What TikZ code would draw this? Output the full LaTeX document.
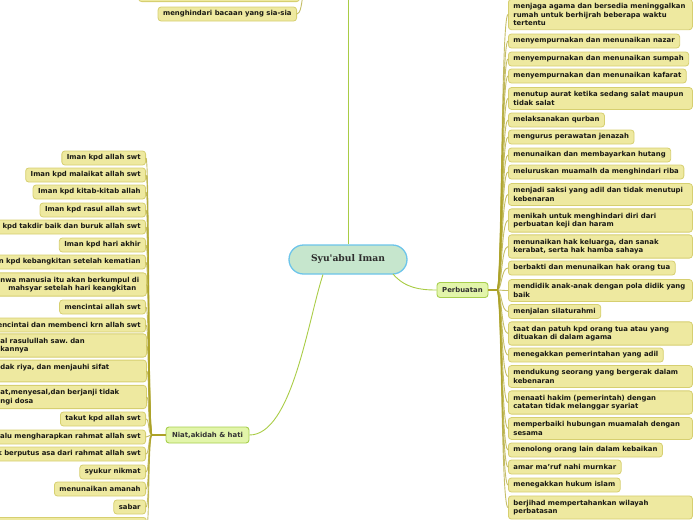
\documentclass[tikz,border=0pt]{standalone}
\usepackage{fontspec}
\setsansfont{DejaVu Sans}
\newfontfamily\ctrfont{DejaVu Serif}
\frenchspacing
\newcommand\leaffnt{\sffamily\bfseries\fontsize{6.9}{8.5}\selectfont}
\newcommand\branchfnt{\sffamily\bfseries\fontsize{6.9}{8.5}\selectfont}
\definecolor{leaffill}{RGB}{238,233,160}
\definecolor{leafborder}{RGB}{214,207,112}
\definecolor{leaftext}{RGB}{25,25,20}
\definecolor{branchfill}{RGB}{226,245,170}
\definecolor{branchborder}{RGB}{168,207,78}
\definecolor{ctrfill}{RGB}{198,230,205}
\definecolor{ctrborder}{RGB}{108,196,234}
\definecolor{mainline}{RGB}{169,204,69}
\definecolor{spine}{RGB}{172,162,40}
\begin{document}
\begin{tikzpicture}[x=1pt,y=-1pt,
  leaf/.style={draw=leafborder, fill=leaffill, rounded corners=3pt, line width=0.8pt,
    font=\leaffnt, text=leaftext, inner xsep=5pt, inner ysep=0pt, minimum height=14pt},
  leafw/.style={leaf, text width=174pt, align=left, inner ysep=4pt},
  branch/.style={draw=branchborder, fill=branchfill, rounded corners=3pt, line width=0.9pt,
    font=\branchfnt, text={rgb,255:red,50;green,50;blue,50}, inner sep=0pt},
  mainconn/.style={draw=mainline, line width=0.9pt},
  stub/.style={draw=spine, line width=2.4pt},
  leafconn/.style={draw=spine, draw opacity=0.7, line width=0.9pt}]
\useasboundingbox (0,0) rectangle (697,520);
\clip (0,0) rectangle (697,520);

% central node
\node[draw=ctrborder, fill=ctrfill, line width=1.3pt, rounded corners=14.5pt,
  minimum width=118pt, minimum height=29pt, inner sep=0pt,
  font=\ctrfont\bfseries\fontsize{9.2}{11}\selectfont, text={rgb,255:red,45;green,45;blue,45}]
  (c) at (348,259.5) {Syu'abul Iman};

% branch nodes
\node[branch, minimum width=51pt, minimum height=15pt] (pb) at (462.5,290) {Perbuatan};
\node[branch, minimum width=83pt, minimum height=16pt] (na) at (207.5,435) {Niat,akidah \& hati};

% main connectors
\coordinate (topc) at (348,-5);
\draw[mainconn] (c.north) -- (topc);
\draw[mainconn] (393,274) .. controls (405,288) and (420,290) .. (pb.west);
\draw[mainconn] (323,274.5) .. controls (308,320) and (292,435) .. (na.east);

% junctions
\coordinate (jr) at (497,290);
\coordinate (jl) at (152,435);
\draw[stub] (pb.east) -- (jr);
\draw[stub] (na.west) -- (jl);

% right leaves
\node[leafw, anchor=west] (r1) at (508,14.5) {menjaga agama dan bersedia meninggalkan\\ rumah untuk berhijrah beberapa waktu\\ tertentu};
\node[leaf, anchor=west] (r2) at (508,41) {menyempurnakan dan menunaikan nazar};
\node[leaf, anchor=west] (r3) at (508,59) {menyempurnakan dan menunaikan sumpah};
\node[leaf, anchor=west] (r4) at (508,76) {menyempurnakan dan menunaikan kafarat};
\node[leafw, anchor=west] (r5) at (508,98.5) {menutup aurat ketika sedang salat maupun\\ tidak salat};
\node[leaf, anchor=west] (r6) at (508,120) {melaksanakan qurban};
\node[leaf, anchor=west] (r7) at (508,137) {mengurus perawatan jenazah};
\node[leaf, anchor=west] (r8) at (508,155) {menunaikan dan membayarkan hutang};
\node[leaf, anchor=west] (r9) at (508,172) {meluruskan muamalh da menghindari riba};
\node[leafw, anchor=west] (r10) at (508,194.5) {menjadi saksi yang adil dan tidak menutupi\\ kebenaran};
\node[leafw, anchor=west] (r11) at (508,220.5) {menikah untuk menghindari diri dari\\ perbuatan keji dan haram};
\node[leafw, anchor=west] (r12) at (508,246.5) {menunaikan hak keluarga, dan sanak\\ kerabat, serta hak hamba sahaya};
\node[leaf, anchor=west] (r13) at (508,268) {berbakti dan menunaikan hak orang tua};
\node[leafw, anchor=west] (r14) at (508,290.5) {mendidik anak-anak dengan pola didik yang\\ baik};
\node[leaf, anchor=west] (r15) at (508,311.5) {menjalan silaturahmi};
\node[leafw, anchor=west] (r16) at (508,333.5) {taat dan patuh kpd orang tua atau yang\\ dituakan di dalam agama};
\node[leaf, anchor=west] (r17) at (508,355) {menegakkan pemerintahan yang adil};
\node[leafw, anchor=west] (r18) at (508,376.5) {mendukung seorang yang bergerak dalam\\ kebenaran};
\node[leafw, anchor=west] (r19) at (508,402.5) {menaati hakim (pemerintah) dengan\\ catatan tidak melanggar syariat};
\node[leafw, anchor=west] (r20) at (508,428.5) {memperbaiki hubungan muamalah dengan\\ sesama};
\node[leaf, anchor=west] (r21) at (508,450) {menolong orang lain dalam kebaikan};
\node[leaf, anchor=west] (r22) at (508,467) {amar ma'ruf nahi murnkar};
\node[leaf, anchor=west] (r23) at (508,485) {menegakkan hukum islam};
\node[leafw, anchor=west] (r24) at (508,507.5) {berjihad mempertahankan wilayah\\ perbatasan};

\foreach \n in {r1,r2,r3,r4,r5,r6,r7,r8,r9,r10,r11,r12,r13,r14,r15,r16,r17,r18,r19,r20,r21,r22,r23,r24}{
  \draw[leafconn] (jr) .. controls (502,290) and (501,0|-\n.west) .. (\n.west);
}

% left leaves
\node[leaf, anchor=east] (l1) at (146,158) {Iman kpd allah swt};
\node[leaf, anchor=east] (l2) at (146,175) {Iman kpd malaikat allah swt};
\node[leaf, anchor=east] (l3) at (146,192) {Iman kpd kitab-kitab allah};
\node[leaf, anchor=east] (l4) at (146,210) {Iman kpd rasul allah swt};
\node[leaf, anchor=east, text width=170pt, align=right] (l5) at (146,227) {kpd takdir baik dan buruk allah swt};
\node[leaf, anchor=east] (l6) at (146,245) {Iman kpd hari akhir};
\node[leaf, anchor=east, text width=170pt, align=right] (l7) at (146,262) {n kpd kebangkitan setelah kematian};
\node[leafw, anchor=west, text width=141pt] (l8) at (-5,284.5) {\mbox{nwa manusia itu akan berkumpul di}\\ \hspace*{8pt}\mbox{mahsyar setelah hari keangkitan}};
\node[leaf, anchor=east] (l9) at (146,307) {mencintai allah swt};
\node[leaf, anchor=east, text width=170pt, align=right] (l10) at (146,325) {encintai dan membenci krn allah swt};
\node[leafw, anchor=west, text width=141pt] (l11) at (-5,345.5) {al rasulullah saw. dan\\ kannya};
\node[leafw, anchor=west, text width=141pt] (l12) at (-5,371) {dak riya, dan menjauhi sifat\\ \mbox{}};
\node[leafw, anchor=west, text width=141pt] (l13) at (-5,397) {at,menyesal,dan berjanji tidak\\ ngi dosa};
\node[leaf, anchor=east] (l14) at (146,419) {takut kpd allah swt};
\node[leaf, anchor=east, text width=170pt, align=right] (l15) at (146,437) {alu mengharapkan rahmat allah swt};
\node[leaf, anchor=east, text width=170pt, align=right] (l16) at (146,454) {k berputus asa dari rahmat allah swt};
\node[leaf, anchor=east] (l17) at (146,472) {syukur nikmat};
\node[leaf, anchor=east] (l18) at (146,489) {menunaikan amanah};
\node[leaf, anchor=east] (l19) at (146,507) {sabar};
\node[leafw, anchor=north west, text width=141pt] (l20) at (-5,517) {\mbox{}\\ \mbox{}};

\foreach \n in {l1,l2,l3,l4,l5,l6,l7,l8,l9,l10,l11,l12,l13,l14,l15,l16,l17,l18,l19,l20}{
  \draw[leafconn] (jl) .. controls (148,435) and (149.5,0|-\n.east) .. (\n.east);
}

% top (off-picture) group
\coordinate (tj) at (306,-30);
\node[leafw, anchor=south east, text width=151pt] (t0) at (300,2) {\mbox{}\\ \mbox{}};
\node[leaf, anchor=east] (t1) at (297,14) {menghindari bacaan yang sia-sia};
\draw[leafconn] (tj) .. controls (303,-30) and (304,0|-t0.east) .. (t0.east);
\draw[leafconn] (tj) .. controls (303,-30) and (304,14) .. (t1.east);
\end{tikzpicture}
\end{document}
